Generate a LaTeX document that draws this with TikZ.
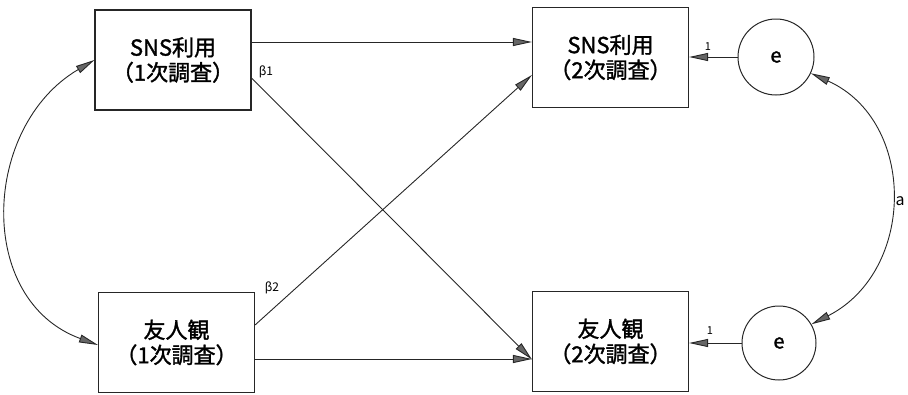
\documentclass[tikz,border=0pt]{standalone}
\usepackage{fontspec}
\setmainfont{Noto Sans CJK JP}
\newfontfamily\boxfont{Noto Sans CJK JP}[FakeBold=1.5]
\usetikzlibrary{arrows.meta}
\tikzset{
  varbox/.style={draw=black!85, line width=1.1pt, minimum width=156pt, minimum height=100pt, align=center, inner sep=0pt, font=\boxfont\fontsize{22}{25}\selectfont},
  errcirc/.style={draw=black!85, line width=1pt, circle, inner sep=0pt, font=\boxfont\fontsize{20}{22}\selectfont},
  tip/.tip={Triangle[length=19pt,width=8pt,fill=black!60]},
  arr/.style={line width=0.9pt, draw=black!85, -{tip}},
  darr/.style={line width=0.9pt, draw=black!85, {tip}-{tip}},
  coef/.style={font=\fontsize{12}{13}\selectfont, inner sep=0pt}
}
\begin{document}
\begin{tikzpicture}[x=1pt,y=-1pt]
\useasboundingbox (0,0) rectangle (908,394);
\node[varbox] (A) at (173,60) {SNS利用\\（1次調査）};
\node[varbox] (B) at (610.5,57.5) {SNS利用\\（2次調査）};
\node[varbox] (C) at (176.5,342.5) {友人観\\（1次調査）};
\node[varbox] (D) at (610.5,341.5) {友人観\\（2次調査）};
\node[errcirc, minimum size=76pt] (e1) at (776,57) {e};
\node[errcirc, minimum size=74pt] (e2) at (779,343) {e};

\coordinate (a1) at ([yshift=18]A.east);
\draw[arr] (a1) -- (a1 -| B.west);
\draw[arr] ([yshift=-18]A.east) -- ([yshift=-18]D.west);
\draw[arr] ([yshift=17.5]C.east) -- ([yshift=-17.5]B.west);
\coordinate (c1) at ([yshift=-16.5]C.east);
\draw[arr] (c1) -- (c1 -| D.west);
\draw[arr] (e1.west) -- (e1.west -| B.east);
\draw[arr] (e2.west) -- (e2.west -| D.east);

\coordinate (cl) at ([yshift=-2.5]C.west);
\draw[darr] (A.west) .. controls (-18,126) and (-25,300) .. (cl);
\draw[darr] (e1.-25) .. controls (917,121) and (916,271) .. (e2.30);

\node[coef] (b1) at (266,72) {\itshape β1};
\node[coef] (b2) at (272,288) {\itshape β2};
\node[coef, font=\fontsize{11}{12}\selectfont] (one1) at (708,47) {1};
\node[coef, font=\fontsize{11}{12}\selectfont] (one2) at (710,331) {1};
\node[font=\fontsize{16}{18}\selectfont, inner sep=0pt] (la) at (900,201) {a};
\end{tikzpicture}
\end{document}
